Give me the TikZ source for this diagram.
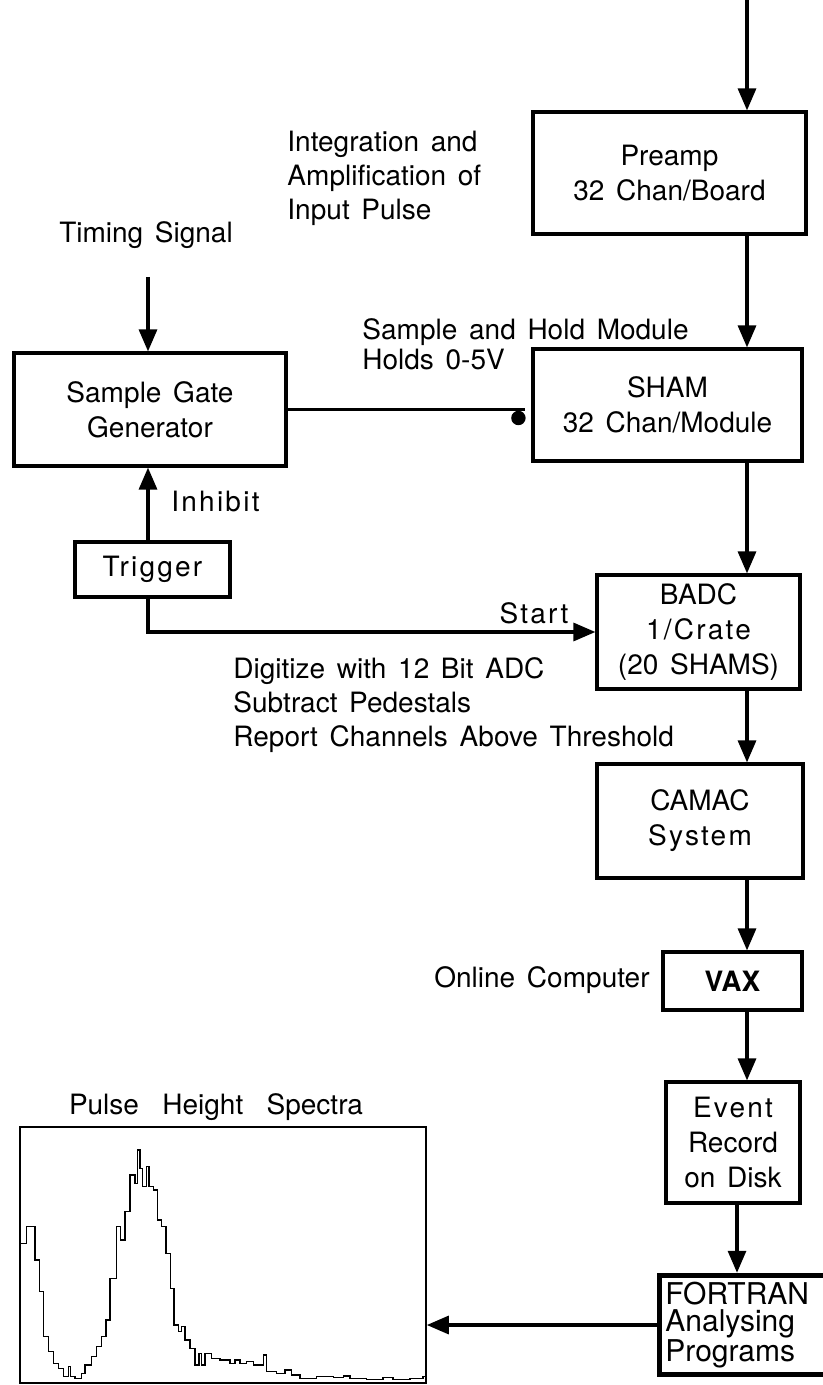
\documentclass[tikz,border=0pt]{standalone}
\usepackage{fontspec}
\setmainfont{TeX Gyre Heros}[WordSpace=1.5]
\newfontfamily\spaced{TeX Gyre Heros}[LetterSpace=8,WordSpace=1.5]
\usetikzlibrary{arrows.meta}

\begin{document}
\begin{tikzpicture}[x=.5pt,y=-.5pt]

      \useasboundingbox (0,0) rectangle (823,1385);

      % boxes of the read-out chain
      \begin{scope}[every node/.style={draw,rectangle,line width=1.6pt,align=center,
          font=\fontsize{14}{17.5}\selectfont}]
        \node[minimum width=136.5pt,minimum height=61pt]   (pre)   at (669.5,173)  {Preamp\\32 Chan/Board};
        \node[minimum width=134.5pt,minimum height=56pt]   (sham)  at (667.5,405)  {SHAM\\32 Chan/Module};
        \node[minimum width=136pt,minimum height=56.5pt]   (sgg)   at (150,409.5)  {Sample Gate\\Generator};
        \node[minimum width=77.5pt,minimum height=27.5pt]  (trig)  at (152.5,569.5) {\spaced Trigger};
        \node[minimum width=101.5pt,minimum height=57pt]   (badc)  at (698.5,632)  {BADC\\{\spaced 1/Crate}\\(20 SHAMS)};
        \node[minimum width=103pt,minimum height=57pt]     (camac) at (700,821)    {CAMAC\\{\spaced System}};
        \node[minimum width=69.5pt,minimum height=29pt]    (vax)   at (732.5,981)  {\bfseries VAX};
        \node[minimum width=67pt,minimum height=60.5pt]    (event) at (733,1142.5) {{\spaced Event}\\Record\\on Disk};
        \node[line width=2.4pt,anchor=west,text width=85.5pt,inner xsep=3pt,align=left,
          minimum height=45pt,font=\fontsize{15}{13.5}\selectfont] (fort) at (657,1325) {FORTRAN\\Analysing\\Programs};
        \node[line width=.8pt,minimum width=203pt,minimum height=128pt] (spec) at (223,1255) {};
      \end{scope}

      % free labels
      \begin{scope}[every node/.style={inner sep=0pt,align=left,font=\fontsize{14}{17}\selectfont}]
        \node[anchor=west] (intg)   at (287,178)   {Integration and\\Amplification of\\Input Pulse};
        \node              (tsig)   at (146,235)   {Timing Signal};
        \node[anchor=west,font=\fontsize{14}{15}\selectfont] (hold) at (362,344) {Sample and Hold Module\\Holds 0-5V};
        \node[anchor=west] (inh)    at (171,502)   {\spaced Inhibit};
        \node              (start)  at (534,613)   {\spaced Start};
        \node[anchor=west] (digi)   at (233,705)   {Digitize with 12 Bit ADC\\Subtract Pedestals\\Report Channels Above Threshold};
        \node[anchor=east] (online) at (650,980)   {Online Computer};
        \node              (pulse)  at (216,1107)  {Pulse\ \ Height\ \ Spectra};
      \end{scope}

      \coordinate (in) at (747,0);
      \coordinate (ts) at (148,277);

      \begin{scope}[every edge/.style={draw,line width=1.6pt,-{Triangle[length=11pt,width=9pt]}}]
        \path (in)                  edge (pre.north -| in);
        \path (pre.south -| in)     edge (sham.north -| in);
        \path (sham.south -| in)    edge (badc.north -| in);
        \path (badc.south -| in)    edge (camac.north -| in);
        \path (camac.south -| in)   edge (vax.north -| in);
        \path (vax.south -| in)     edge (event.north -| in);
        \path ([xshift=2pt]event.south) edge ([xshift=2pt]event.south |- fort.north);
        \path (fort.west)           edge (fort.west -| spec.east);
        \path (ts)                  edge (sgg.north -| ts);
        \path (trig.north -| ts)    edge (sgg.south -| ts);
        \path (trig.south -| ts)    edge[to path={|- (\tikztotarget)}] (badc.west);
      \end{scope}

      % gate line into the sample and hold module
      \draw[line width=1.6pt] (sgg.east) -- ([xshift=-3pt]sham.west |- sgg.east);
      \fill ([xshift=-6.5pt,yshift=-6.5pt]sham.west) circle[radius=3.6pt];

      % spectrum
      \begin{scope}[shift={(0,1080)},scale=.3333]
        \draw[line width=.8pt] (62,700) -- (62,490) -| (80,440) -| (105,540) -| (118,635)
          -| (130,770) -| (145,815) -| (160,850) -| (175,865) -| (190,890) -| (205,860)
          -| (212,890) -| (225,895) -| (245,880) -| (255,855) -| (275,830) -| (290,800)
          -| (305,770) -| (318,720) -| (330,595) -| (350,440) -| (362,480) -| (375,395)
          -| (390,285) -| (405,310) -| (412,210) -| (420,265) -| (428,320) -| (440,260)
          -| (447,320) -| (460,330) -| (472,420) -| (485,440) -| (498,520) -| (512,625)
          -| (522,735) -| (535,755) -| (545,740) -| (555,780) -| (570,805) -| (585,855)
          -| (597,820) -| (605,855) -| (615,820) -| (635,835) -| (660,840) -| (690,850)
          -| (705,840) -| (720,850) -| (740,845) -| (760,855) -| (790,825) -| (800,875)
          -| (830,880) -| (855,870) -| (875,885) -| (900,895) -| (950,890) -| (1000,893)
          -| (1030,888) -| (1050,895) -| (1100,898) -| (1150,892) -| (1180,898)
          -| (1230,895) -| (1270,890) -- (1278,890);
      \end{scope}

    \end{tikzpicture}
\end{document}
